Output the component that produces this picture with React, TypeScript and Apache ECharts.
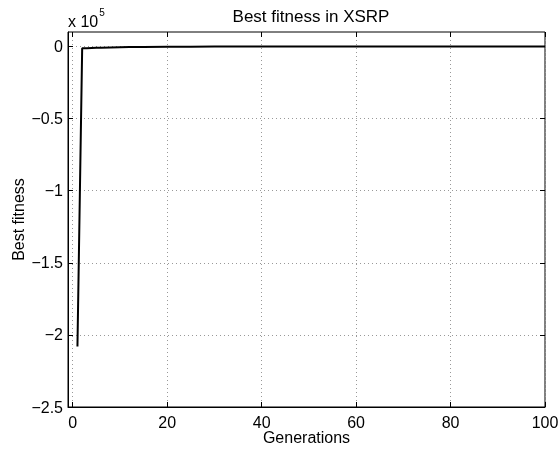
import React, { useEffect, useRef } from "react";
import * as echarts from "echarts";

const generations = [1, 2, 3, 4, 5, 6, 8, 10, 12, 15, 20, 25, 30, 40, 50, 60, 70, 80, 90, 100];
const bestFitness = [-208000, -1300, -1200, -1100, -1000, -900, -700, -550, -450, -350, -250, -180, -120, -70, -40, -25, -15, -10, -5, 0];
const xTicks = [0, 20, 40, 60, 80, 100];
const yTicks = [-250000, -200000, -150000, -100000, -50000, 0];

const FONT = "Liberation Sans, Arial, Helvetica, sans-serif";

export default function App() {
  const ref = useRef<HTMLDivElement>(null);
  useEffect(() => {
    if (!ref.current) return;
    const chart = echarts.init(ref.current, null, { renderer: "svg" });
    const gridLine = { show: true, lineStyle: { color: "#999", width: 1, type: [1, 3] as any } };
    const yFmt = (v: number) => (v === 0 ? "0" : "\u2212" + Math.abs(v / 1e5));
    const common = { min: -1, max: 100 };
    const yCommon = { min: -250000, max: 10000 };
    chart.setOption({
      animation: false,
      textStyle: { fontFamily: FONT },
      title: {
        text: "Best fitness in XSRP",
        left: 306,
        textAlign: "center",
        top: 3,
        textStyle: { fontFamily: FONT, fontSize: 17, fontWeight: "normal", color: "#000" },
      },
      grid: {
        left: 68, right: 15, top: 32, bottom: 45,
        containLabel: false, outerBoundsMode: "none",
        show: true, borderColor: "#000", borderWidth: 1, backgroundColor: "#fff",
      },
      xAxis: [
        {
          type: "value",
          ...common,
          name: "Generations",
          nameLocation: "middle",
          nameGap: 22,
          nameMoveOverlap: false,
          nameTextStyle: { fontFamily: FONT, fontSize: 16, color: "#000" },
          axisLine: { show: true, onZero: false, lineStyle: { color: "#000", width: 1 } },
          axisTick: { show: true, inside: true, length: 5, customValues: xTicks, lineStyle: { color: "#000" } },
          axisLabel: { customValues: xTicks, fontFamily: FONT, fontSize: 16, color: "#000", margin: 7 },
          splitLine: gridLine,
        },
        {
          type: "value",
          ...common,
          position: "top",
          axisLine: { show: false, onZero: false },
          axisTick: { show: true, inside: true, length: 5, customValues: xTicks, lineStyle: { color: "#000" } },
          axisLabel: { show: false },
          splitLine: { show: false },
        },
      ],
      yAxis: [
        {
          type: "value",
          ...yCommon,
          name: "Best fitness",
          nameLocation: "middle",
          nameGap: 42,
          nameMoveOverlap: false,
          nameTextStyle: { fontFamily: FONT, fontSize: 16, color: "#000" },
          axisLine: { show: true, onZero: false, lineStyle: { color: "#000", width: 1 } },
          axisTick: { show: true, inside: true, length: 5, customValues: yTicks, lineStyle: { color: "#000" } },
          axisLabel: { customValues: yTicks, formatter: yFmt, fontFamily: FONT, fontSize: 16, color: "#000", margin: 5 },
          splitLine: gridLine,
        },
        {
          type: "value",
          ...yCommon,
          position: "right",
          axisLine: { show: false, onZero: false },
          axisTick: { show: true, inside: true, length: 5, customValues: yTicks, lineStyle: { color: "#000" } },
          axisLabel: { show: false },
          splitLine: { show: false },
        },
      ],
      graphic: [
        {
          type: "text",
          left: 68,
          top: 7,
          style: {
            text: "{a|x 10}{b|5}",
            rich: {
              a: { fontFamily: FONT, fontSize: 16, fill: "#000", padding: [6, 0, 0, 0] },
              b: { fontFamily: FONT, fontSize: 10, fill: "#000", verticalAlign: "top", padding: [0, 0, 0, 1] },
            },
          },
        },
      ],
      series: [
        {
          type: "line",
          xAxisIndex: 0,
          yAxisIndex: 0,
          data: generations.map((g, i) => [g, bestFitness[i]]),
          showSymbol: false,
          lineStyle: { color: "#000", width: 2 },
          itemStyle: { color: "#000" },
        },
      ],
    });
    return () => chart.dispose();
  }, []);
  return <div ref={ref} style={{ position: "fixed", left: 0, top: 0, width: 560, height: 452 }} />;
}
